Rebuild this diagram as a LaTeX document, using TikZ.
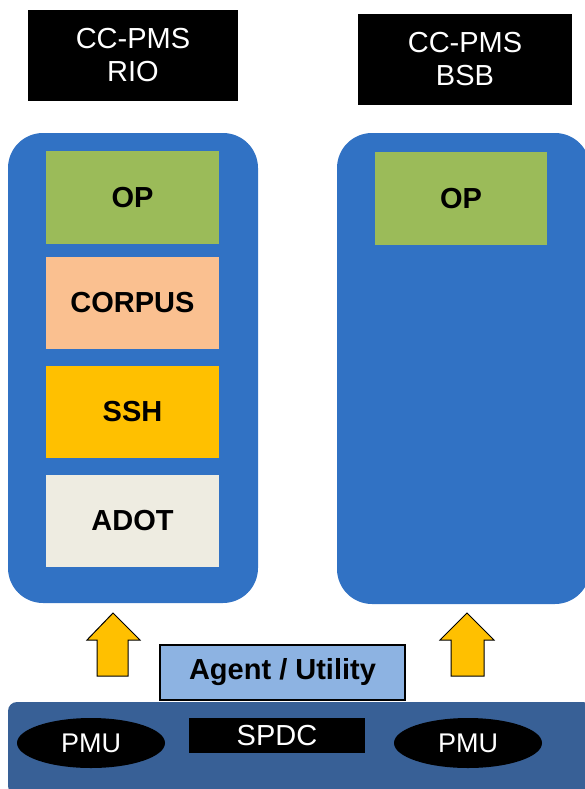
\documentclass[tikz,border=0pt]{standalone}
\usepackage{fontspec}
\setmainfont{Liberation Sans}
\usetikzlibrary{shapes.geometric}
\definecolor{panelblue}{HTML}{3172C4}
\definecolor{opgreen}{HTML}{9BBB59}
\definecolor{peach}{HTML}{FAC090}
\definecolor{sshgold}{HTML}{FFC000}
\definecolor{adotgray}{HTML}{EEECE1}
\definecolor{barblue}{HTML}{386096}
\definecolor{agentblue}{HTML}{8DB3E2}
\begin{document}
\begin{tikzpicture}[x=1pt,y=-1pt,
  hdr/.style={fill=black,text=white,align=center,font=\fontsize{29}{33}\selectfont,inner sep=0pt},
  layer/.style={inner sep=0pt,font=\bfseries\fontsize{29}{33}\selectfont},
  panel/.style={fill=panelblue,rounded corners=35pt},
  uparrow/.style={fill=sshgold,draw=black,line width=1pt,line join=miter},
  wtext/.style={text=white,inner sep=0pt}]
\useasboundingbox (0,0) rectangle (584,789);
% headers
\node[hdr,minimum width=210pt,minimum height=91pt] (rio) at (133,55.5) {CC-PMS\\RIO};
\node[hdr,minimum width=214pt,minimum height=91pt] (bsb) at (465,59.5) {CC-PMS\\BSB};
% panels
\fill[panel] (8,133) rectangle (258,603);
\fill[panel] (337,133) rectangle (590,604);
% layers
\node[layer,fill=opgreen,minimum width=173pt,minimum height=93pt] (op1) at (132.5,197.5) {OP};
\node[layer,fill=peach,minimum width=173pt,minimum height=92pt] (corpus) at (132.5,303) {CORPUS};
\node[layer,fill=sshgold,minimum width=173pt,minimum height=92pt] (ssh) at (132.5,412) {SSH};
\node[layer,fill=adotgray,minimum width=173pt,minimum height=92pt] (adot) at (132.5,521) {ADOT};
\node[layer,fill=opgreen,minimum width=172pt,minimum height=93pt] (op2) at (461,198.5) {OP};
% bottom bar
\fill[barblue,rounded corners=9pt] (8,702) rectangle (592,795);
% arrows
\draw[uparrow] (97,676) -- (97,640) -- (87,640) -- (113,613) -- (140,640) -- (128,640) -- (128,676) -- cycle;
\draw[uparrow] (451,676) -- (451,640) -- (440,640) -- (467,613) -- (494,640) -- (484,640) -- (484,676) -- cycle;
% agent
\node[draw=black,line width=1.2pt,fill=agentblue,minimum width=245pt,minimum height=55pt,inner sep=0pt,font=\bfseries\fontsize{29}{33}\selectfont] (agent) at (282.5,672.5) {Agent / Utility};
% PMU and SPDC
\node[wtext,ellipse,fill=black,minimum width=148pt,minimum height=50pt,font=\fontsize{27}{30}\selectfont] (pmu1) at (91,743) {PMU};
\node[wtext,ellipse,fill=black,minimum width=148pt,minimum height=50pt,font=\fontsize{27}{30}\selectfont] (pmu2) at (468,743) {PMU};
\node[wtext,fill=black,minimum width=176pt,minimum height=35pt,font=\fontsize{29}{32}\selectfont] (spdc) at (277,735.5) {SPDC};
\end{tikzpicture}
\end{document}
